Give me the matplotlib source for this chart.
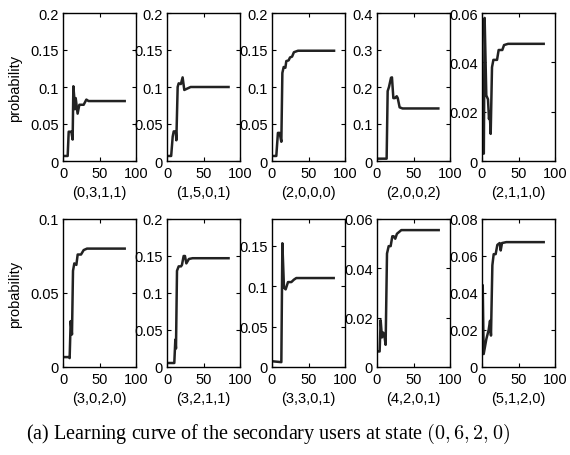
import numpy as np
import matplotlib.pyplot as plt
from matplotlib.ticker import FuncFormatter

plt.rcParams['font.family'] = ['Liberation Sans', 'DejaVu Sans']
plt.rcParams['mathtext.fontset'] = 'cm'

# state labels of each panel
states = ['(0,3,1,1)', '(1,5,0,1)', '(2,0,0,0)', '(2,0,0,2)', '(2,1,1,0)',
          '(3,0,2,0)', '(3,2,1,1)', '(3,3,0,1)', '(4,2,0,1)', '(5,1,2,0)']

# learning curves (iteration, probability)
x_0311 = [0.5, 6.4, 7.8, 11.4, 13.2, 14.2, 15.5, 16.4, 17.4, 20, 22.4, 28.3, 32, 35, 84.5]
y_0311 = [0.0068, 0.0068, 0.0396, 0.0396, 0.029, 0.101, 0.085, 0.07, 0.085, 0.064, 0.076, 0.076, 0.083, 0.081, 0.081]

x_1501 = [0.8, 5.7, 7.8, 9.2, 12, 12.8, 14.6, 16, 19, 21.4, 23.7, 28, 32.4, 84.3]
y_1501 = [0.0068, 0.0068, 0.033, 0.04, 0.04, 0.028, 0.1, 0.105, 0.104, 0.113, 0.096, 0.098, 0.1, 0.1]

x_2000 = [1.4, 5.9, 8.1, 10.4, 12.8, 14.2, 16, 18.3, 19.6, 22.8, 24.7, 27.5, 30, 35.6, 85]
y_2000 = [0.0068, 0.0068, 0.038, 0.038, 0.026, 0.119, 0.127, 0.126, 0.135, 0.136, 0.14, 0.141, 0.147, 0.149, 0.149]

x_2002 = [0.9, 13.2, 14.6, 16.4, 19.2, 20.5, 22.4, 24.7, 27, 28.4, 31, 35, 84]
y_2002 = [0.0063, 0.0063, 0.189, 0.2, 0.225, 0.226, 0.17, 0.17, 0.175, 0.17, 0.145, 0.142, 0.142]

x_2110 = [0.5, 1.5, 2.5, 3.6, 5.9, 8.2, 9.6, 10.5, 11.9, 13.7, 15.6, 20.6, 22.8, 27.8, 30.2, 35.7, 84.5]
y_2110 = [0.02, 0.003, 0.003, 0.058, 0.0266, 0.025, 0.017, 0.02, 0.011, 0.038, 0.041, 0.041, 0.045, 0.045, 0.047, 0.0475, 0.0475]

x_3020 = [0.9, 7.8, 9.1, 10.5, 12.3, 13.7, 15.5, 18.3, 20.1, 24.7, 28.3, 32.9, 84.5]
y_3020 = [0.0067, 0.0067, 0.006, 0.031, 0.022, 0.065, 0.07, 0.069, 0.076, 0.076, 0.079, 0.08, 0.08]

x_3211 = [0.9, 10, 11.4, 12.3, 13.7, 16, 19.2, 20.5, 22.8, 24.6, 26.5, 30, 35, 84.3]
y_3211 = [0.0054, 0.0054, 0.037, 0.025, 0.13, 0.136, 0.136, 0.138, 0.15, 0.15, 0.14, 0.146, 0.147, 0.147]

x_3301 = [1.4, 12.8, 14.2, 16.4, 18.7, 21.9, 26.5, 30, 33.3, 84.5]
y_3301 = [0.007, 0.006, 0.153, 0.098, 0.096, 0.105, 0.105, 0.108, 0.11, 0.11]

x_4201 = [1.4, 3.6, 5, 6.8, 8.2, 10, 11.8, 13.7, 16, 18.7, 21, 22.8, 25, 27.3, 33.3, 84.5]
y_4201 = [0.0063, 0.0063, 0.019, 0.012, 0.014, 0.013, 0.009, 0.046, 0.049, 0.049, 0.053, 0.053, 0.052, 0.054, 0.0555, 0.0555]

x_5120 = [1, 2.3, 5.9, 9.1, 11, 12.3, 14.2, 16, 18.7, 21, 24.2, 25.6, 27.4, 33.3, 84.5]
y_5120 = [0.044, 0.007, 0.015, 0.02, 0.025, 0.017, 0.055, 0.061, 0.061, 0.066, 0.067, 0.063, 0.067, 0.0675, 0.0675]

curves = [(x_0311, y_0311), (x_1501, y_1501), (x_2000, y_2000), (x_2002, y_2002),
          (x_2110, y_2110), (x_3020, y_3020), (x_3211, y_3211), (x_3301, y_3301),
          (x_4201, y_4201), (x_5120, y_5120)]

ytops = [0.2, 0.2, 0.2, 0.4, 0.06, 0.1, 0.2, 0.183, 0.06, 0.08]
ysteps = [0.05, 0.05, 0.05, 0.1, 0.02, 0.05, 0.05, 0.05, 0.02, 0.02]

fig = plt.figure(figsize=(5.7, 4.56), dpi=100)

lefts = [63, 167, 272, 377, 482]
fmt = FuncFormatter(lambda v, p: '%g' % round(v, 4))
fs = 10.5

for i in range(10):
    row, col = divmod(i, 5)
    top_px = 14 if row == 0 else 220
    ax = fig.add_axes([lefts[col] / 570, 1 - (top_px + 148) / 456, 73 / 570, 148 / 456])
    xs, ys = curves[i]
    ax.plot(xs, ys, color='#222222', lw=1.8)
    ax.set_xlim(0, 100)
    ax.set_ylim(0, ytops[i])
    ax.set_xticks([0, 50, 100])
    ax.set_yticks(np.arange(0, ytops[i] + 1e-9, ysteps[i]))
    ax.yaxis.set_major_formatter(fmt)
    ax.tick_params(direction='in', top=True, right=True, length=3, width=0.8,
                   labelsize=fs)
    ax.tick_params(axis='x', pad=3.5)
    ax.tick_params(axis='y', pad=3)
    for s in ax.spines.values():
        s.set_linewidth(1.0)
    ax.set_xlabel(states[i], fontsize=fs, labelpad=4)
    if col == 0:
        ax.set_ylabel('probability', fontsize=fs, va='center')
        ax.yaxis.set_label_coords(-48 / 73, 0.5)

fig.text(268 / 570, 1 - 434 / 456,
         '(a) Learning curve of the secondary users at state $(0,6,2,0)$',
         family='Liberation Serif', fontsize=14.5, ha='center', va='center')

plt.savefig('out.png', dpi=100)
